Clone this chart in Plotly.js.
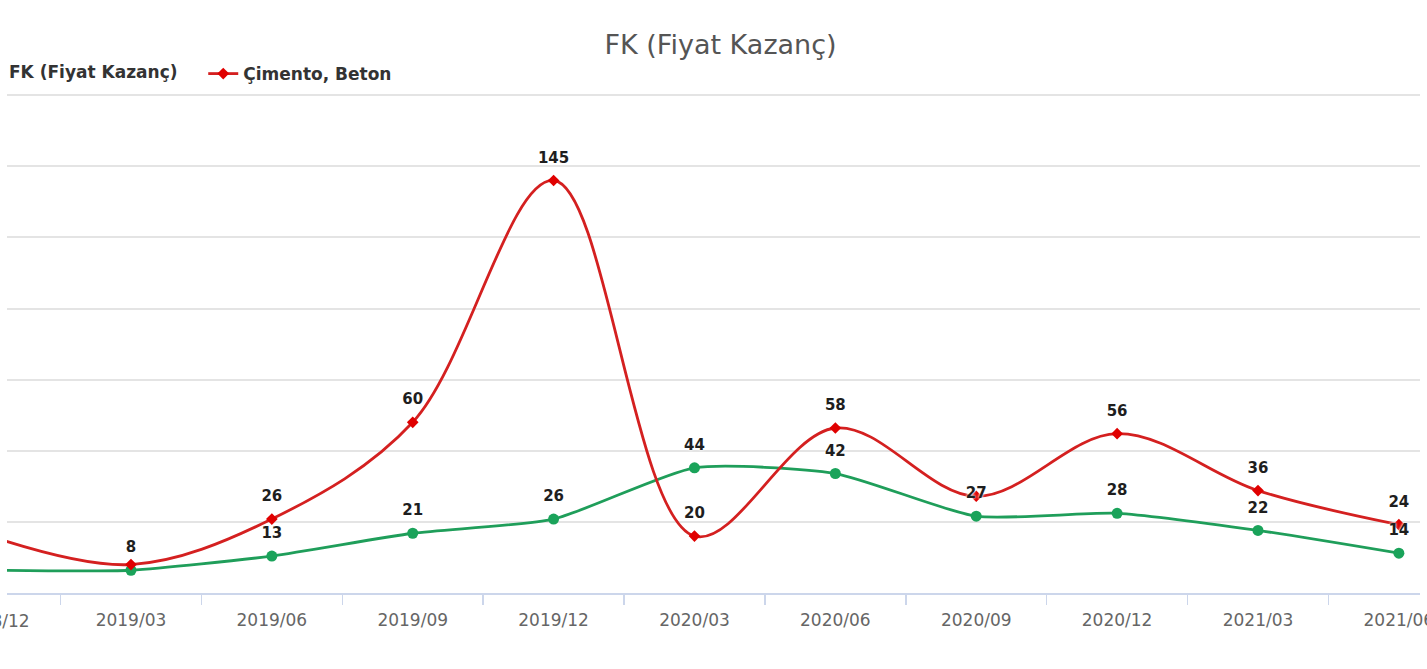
<!DOCTYPE html>
<html>
<head>
<meta charset="utf-8">
<script src="https://cdn.plot.ly/plotly-3.0.1.min.js"></script>
<style>
  html, body { margin: 0; padding: 0; background: #fff; }
  #chart { width: 1427px; height: 669px; }
</style>
</head>
<body>
<div id="chart"></div>
<script>
// quarters on the x axis (2018/12 sits just off the left edge)
const quarters = ['2018/12', '2019/03', '2019/06', '2019/09', '2019/12', '2020/03',
                  '2020/06', '2020/09', '2020/12', '2021/03', '2021/06'];

// F/K values
const fkSirket = [8, 8, 13, 21, 26, 44, 42, 27, 28, 22, 14];      // green
const fkSektor = [20, 10, 26, 60, 145, 20, 58, 34, 56, 36, 24];   // red, Çimento, Beton

// data labels the original does not show (off the edge or overlapped)
const hiddenSirket = ['2018/12'];
const hiddenSektor = ['2018/12', '2019/03', '2020/09'];

const xRange = [0.12, 10.15];
const font = 'DejaVu Sans, Verdana, sans-serif';

const labelFont = {
    family: font, size: 15, color: '#1e1e1e', weight: 'bold',
    shadow: '0 0 3px #fff, 0 0 2px #fff'
};
const legendFont = { family: font, size: 17, color: '#333', weight: 'bold' };

function labels(values, hidden) {
    return values.map((v, i) => hidden.includes(quarters[i]) ? '' : String(v));
}

let sirketTrace = {
    x: quarters,
    y: fkSirket,
    name: 'FK (Fiyat Kazanç)',
    type: 'scatter',
    mode: 'lines+markers',
    line: { color: '#1f9e5a', width: 2.8, shape: 'spline', smoothing: 0.6 },
    marker: { color: '#1aa35a', size: 11, symbol: 'circle' },
    showlegend: false
};

let sektorTrace = {
    x: quarters,
    y: fkSektor,
    name: 'Çimento, Beton',
    type: 'scatter',
    mode: 'lines+markers',
    line: { color: '#d42020', width: 2.8, shape: 'spline', smoothing: 1 },
    marker: { color: '#e00000', size: 9, symbol: 'diamond' }
};

// value labels, lifted a little higher above the points like the original
function labelTrace(values, hidden) {
    return {
        x: quarters,
        y: values,
        type: 'scatter',
        mode: 'markers+text',
        marker: { size: 21, color: 'rgba(0,0,0,0)' },
        text: labels(values, hidden),
        textposition: 'top center',
        textfont: labelFont,
        showlegend: false,
        hoverinfo: 'skip'
    };
}

let layout = {
    width: 1427,
    height: 669,
    margin: { l: 7, r: 7, t: 94, b: 76, autoexpand: false },
    paper_bgcolor: '#fff',
    plot_bgcolor: '#fff',
    font: { family: font, color: '#333' },
    title: {
        text: 'FK (Fiyat Kazanç)',
        x: 0.505, xref: 'paper', xanchor: 'center',
        y: 1 - 45 / 669, yref: 'container', yanchor: 'middle',
        font: { family: font, size: 27, color: '#555' }
    },
    showlegend: true,
    legend: {
        orientation: 'h',
        x: 0, xanchor: 'left',
        y: 1.040, yanchor: 'middle',
        bgcolor: 'rgba(255,255,255,0)',
        title: { text: 'FK (Fiyat Kazanç)\u00a0\u00a0\u00a0', side: 'left', font: legendFont },
        font: legendFont
    },
    xaxis: {
        type: 'category',
        range: xRange,
        showgrid: false,
        showline: true,
        linecolor: '#ccd6eb',
        linewidth: 2,
        ticks: 'outside',
        tickson: 'boundaries',
        ticklen: 10,
        tickwidth: 1.5,
        tickcolor: '#ccd6eb',
        ticklabelstandoff: 11,
        tickfont: { family: font, size: 17, color: '#666' },
        zeroline: false,
        fixedrange: true
    },
    yaxis: {
        range: [0, 175.4],
        dtick: 25,
        showticklabels: false,
        showgrid: true,
        gridcolor: '#e4e4e4',
        gridwidth: 2,
        zeroline: false,
        showline: false,
        fixedrange: true
    },
    // first quarter label, mostly cut off at the left edge
    annotations: [{
        text: quarters[0],
        xref: 'paper', yref: 'paper',
        x: (0 - xRange[0]) / (xRange[1] - xRange[0]),
        xanchor: 'center', xshift: 4,
        y: 0, yanchor: 'top', yshift: -16,
        showarrow: false,
        font: { family: font, size: 17, color: '#666' }
    }]
};

Plotly.newPlot('chart', [
    sirketTrace, sektorTrace,
    labelTrace(fkSirket, hiddenSirket), labelTrace(fkSektor, hiddenSektor)
], layout, { displayModeBar: false, staticPlot: true });
</script>
</body>
</html>
